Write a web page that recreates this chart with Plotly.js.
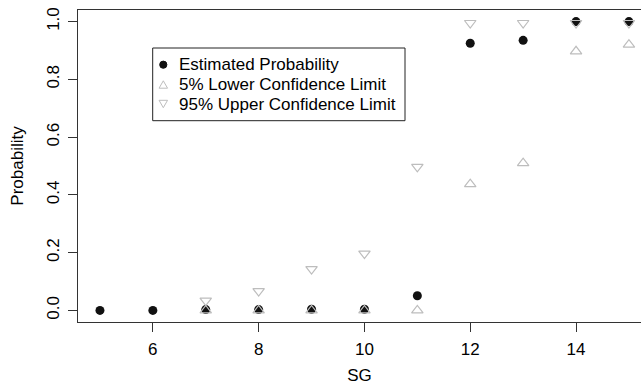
<!DOCTYPE html>
<html>
<head>
<meta charset="utf-8">
<script src="https://cdn.plot.ly/plotly-3.0.1.min.js"></script>
<style>html,body{margin:0;padding:0;background:#fff;}#chart{width:641px;height:385px;}</style>
</head>
<body>
<div id="chart"></div>
<script>
// Data
const sg = [5, 6, 7, 8, 9, 10, 11, 12, 13, 14, 15];
const estimated = [0, 0, 0.003, 0.003, 0.004, 0.004, 0.051, 0.925, 0.935, 1.0, 1.0];
const lower5 = [null, null, 0, 0, 0, 0, 0, 0.437, 0.51, 0.897, 0.92];
const upper95 = [null, null, 0.034, 0.067, 0.143, 0.197, 0.497, 0.995, 0.995, 0.995, 0.995];
const seriesNames = ["Estimated Probability", "5% Lower Confidence Limit", "95% Upper Confidence Limit"];
const xTicks = [6, 8, 10, 12, 14];
const yTicks = [0, 0.2, 0.4, 0.6, 0.8, 1.0];
const yTickText = ["0.0", "0.2", "0.4", "0.6", "0.8", "1.0"];

const FONT = "Liberation Sans, Arial, Helvetica, sans-serif";
const FS = 17;
const grey = "#bdbdbd";
const W = 641, H = 385;
const M = {l: 78, r: 0, t: 10, b: 63};
const PW = W - M.l - M.r, PH = H - M.t - M.b;
const px = v => (v - M.l) / PW;       // pixel x -> paper x
const py = v => (H - M.b - v) / PH;   // pixel y -> paper y

const traces = [
  {x: sg, y: estimated, name: seriesNames[0], type: "scatter", mode: "markers",
   marker: {symbol: "circle", size: 9, color: "#111"}},
  {x: sg, y: lower5, name: seriesNames[1], type: "scatter", mode: "markers",
   marker: {symbol: "triangle-up-open", size: 10, color: grey, line: {width: 1.2, color: grey}}},
  {x: sg, y: upper95, name: seriesNames[2], type: "scatter", mode: "markers",
   marker: {symbol: "triangle-down-open", size: 10, color: grey, line: {width: 1.2, color: grey}}}
];

// Legend (drawn as in the reference: box, small symbols, labels)
const legBox = {x0: 152.7, x1: 405, y0: 48, y1: 120.7};
const rowY = [64.7, 84.5, 104];
const symX = 163.3;
const shapes = [
  {type: "rect", xref: "paper", yref: "paper", x0: px(legBox.x0), x1: px(legBox.x1),
   y0: py(legBox.y0), y1: py(legBox.y1), line: {color: "#222", width: 1}, fillcolor: "#fff", layer: "above"},
  {type: "circle", xref: "paper", yref: "paper", x0: px(symX - 3.6), x1: px(symX + 3.6),
   y0: py(rowY[0] - 3.6), y1: py(rowY[0] + 3.6), line: {color: "#111", width: 1}, fillcolor: "#111", layer: "above"}
];
function triPath(cx, cy, up, s) {
  const h = s * 0.87;
  const pts = up ? [[cx - s/2, cy + h/2], [cx + s/2, cy + h/2], [cx, cy - h/2]]
                 : [[cx - s/2, cy - h/2], [cx + s/2, cy - h/2], [cx, cy + h/2]];
  return "M" + pts.map(p => px(p[0]) + "," + py(p[1])).join(" L") + " Z";
}
shapes.push({type: "path", xref: "paper", yref: "paper", path: triPath(symX, rowY[1], true, 8.5),
  line: {color: grey, width: 1}, layer: "above"});
shapes.push({type: "path", xref: "paper", yref: "paper", path: triPath(symX, rowY[2], false, 8.5),
  line: {color: grey, width: 1}, layer: "above"});

const annotations = seriesNames.map((n, i) => ({
  text: n, xref: "paper", yref: "paper", x: px(176.5), y: py(rowY[i]),
  xanchor: "left", yanchor: "middle", showarrow: false,
  font: {family: FONT, size: FS, color: "#000"}
}));

const layout = {
  width: W, height: H,
  margin: M,
  paper_bgcolor: "#fff", plot_bgcolor: "#fff",
  font: {family: FONT, size: FS, color: "#000"},
  showlegend: false,
  shapes: shapes,
  annotations: annotations,
  xaxis: {range: [4.585, 15.228], tickvals: xTicks, ticktext: xTicks.map(String),
    showgrid: false, zeroline: false, showline: true, linecolor: "#333", linewidth: 1,
    mirror: true, ticks: "outside", ticklen: 9, tickcolor: "#333",
    title: {text: "SG", font: {family: FONT, size: FS}, standoff: 12},
    tickfont: {family: FONT, size: FS}, ticklabelstandoff: 3},
  yaxis: {range: [-0.04, 1.04], tickvals: yTicks, ticktext: yTickText, tickangle: -90,
    showgrid: false, zeroline: false, showline: true, linecolor: "#333", linewidth: 1,
    ticks: "outside", ticklen: 9, tickcolor: "#333",
    title: {text: "Probability", font: {family: FONT, size: FS}, standoff: 16},
    tickfont: {family: FONT, size: FS}, ticklabelstandoff: 2}
};

Plotly.newPlot("chart", traces, layout, {displayModeBar: false, staticPlot: true});
</script>
</body>
</html>
